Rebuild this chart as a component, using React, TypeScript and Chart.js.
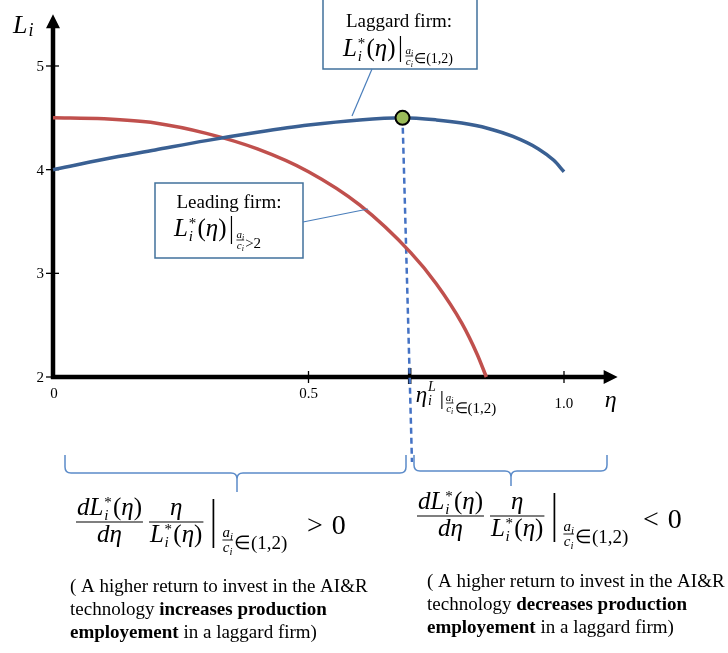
import React, { useEffect, useRef } from 'react';
import { Chart, registerables } from 'chart.js';
Chart.register(...registerables);

// ---- data ----
const etaLaggard = [0, 0.1, 0.2, 0.3, 0.4, 0.5, 0.6, 0.684, 0.75, 0.8, 0.85, 0.9, 0.95, 0.98, 1.0];
const laggardL = [4.0, 4.1, 4.19, 4.28, 4.36, 4.43, 4.48, 4.5, 4.48, 4.45, 4.4, 4.32, 4.2, 4.09, 3.98];
const etaLeading = [0, 0.1, 0.2, 0.3, 0.4, 0.5, 0.6, 0.7, 0.75, 0.8, 0.83, 0.848];
const leadingL = [4.5, 4.49, 4.45, 4.35, 4.2, 3.98, 3.66, 3.2, 2.9, 2.52, 2.22, 2.0];
const peakEta = [0.684];
const peakL = [4.5];
const dashEta = [0.684, 0.698, 0.7025];
const dashL = [4.5, 2.0, 1.18];
const etaLTick = 0.698;
const xTickValues = [0, 0.5, 1.0];
const xTickLabels = ['0', '0.5', '1.0'];
const yTickValues = [2, 3, 4, 5];
const yTickLabels = ['2', '3', '4', '5'];
const axisOrigin = { x: 0, y: 2 };
const axisEnd = { x: 1.105, y: 5.5 };

// scale range (page-wide drawing surface)
const X_MIN = -0.10372;
const X_MAX = 1.32094;
const Y_MIN = -0.66229;
const Y_MAX = 5.63654;

const SERIF = '"Liberation Serif", "Times New Roman", serif';
const BOX_BLUE = '#41719C';
const BRACE_BLUE = '#5B8BC9';

type P = { t: string; s: number; it?: boolean; b?: boolean; dy?: number; stack?: boolean; gap?: number };
const fontOf = (p: P) => `${p.it ? 'italic ' : ''}${p.b ? 'bold ' : ''}${p.s}px ${SERIF}`;

function runW(ctx: CanvasRenderingContext2D, ps: P[]) {
  let w = 0, pend = 0;
  for (const p of ps) {
    ctx.font = fontOf(p);
    const m = ctx.measureText(p.t).width;
    w += p.gap || 0;
    if (p.stack) { pend = m; continue; }
    w += Math.max(m, pend); pend = 0;
  }
  return w;
}
function drawRun(ctx: CanvasRenderingContext2D, x: number, y: number, ps: P[]) {
  let cx = x, pend = 0;
  for (const p of ps) {
    ctx.font = fontOf(p);
    const m = ctx.measureText(p.t).width;
    cx += p.gap || 0;
    ctx.fillText(p.t, cx, y + (p.dy || 0));
    if (p.stack) { pend = m; continue; }
    cx += Math.max(m, pend); pend = 0;
  }
  return cx;
}
const lstar = (S: number): P[] => [
  { t: 'L', s: S, it: true },
  { t: '*', s: S * 0.6, dy: -S * 0.34, stack: true, gap: S * 0.03 },
  { t: 'i', s: S * 0.6, it: true, dy: S * 0.2 },
  { t: '(', s: S, gap: S * 0.05 },
  { t: 'η', s: S, it: true },
  { t: ')', s: S },
];
const sub = (ch: string, s: number): P[] => [
  { t: ch, s, it: true },
  { t: 'i', s: s * 0.72, it: true, dy: s * 0.22 },
];
function drawFrac(ctx: CanvasRenderingContext2D, x: number, yLine: number, num: P[], den: P[], up: number, down: number, lw: number, pad: number) {
  const wn = runW(ctx, num), wd = runW(ctx, den);
  const w = Math.max(wn, wd) + pad * 2;
  drawRun(ctx, x + (w - wn) / 2, yLine - up, num);
  drawRun(ctx, x + (w - wd) / 2, yLine + down, den);
  ctx.beginPath();
  ctx.lineWidth = lw;
  ctx.moveTo(x, yLine);
  ctx.lineTo(x + w, yLine);
  ctx.stroke();
  return x + w;
}
function vbar(ctx: CanvasRenderingContext2D, x: number, y1: number, y2: number, lw: number) {
  ctx.beginPath();
  ctx.lineWidth = lw;
  ctx.moveTo(x, y1);
  ctx.lineTo(x, y2);
  ctx.stroke();
}
function brace(ctx: CanvasRenderingContext2D, x1: number, x2: number, yTop: number, yH: number, xMid: number, yTip: number) {
  const r = 6;
  ctx.beginPath();
  ctx.moveTo(x1, yTop);
  ctx.lineTo(x1, yH - r);
  ctx.quadraticCurveTo(x1, yH, x1 + r, yH);
  ctx.lineTo(xMid - r, yH);
  ctx.quadraticCurveTo(xMid, yH, xMid, yH + r);
  ctx.lineTo(xMid, yTip);
  ctx.moveTo(xMid, yH + r);
  ctx.quadraticCurveTo(xMid, yH, xMid + r, yH);
  ctx.lineTo(x2 - r, yH);
  ctx.quadraticCurveTo(x2, yH, x2, yH - r);
  ctx.lineTo(x2, yTop);
  ctx.stroke();
}
function elasticity(ctx: CanvasRenderingContext2D, x0: number, yLine: number, sign: string, signX: number) {
  const S = 25;
  let x = drawFrac(ctx, x0, yLine, [{ t: 'd', s: S, it: true }, ...lstar(S)], [{ t: 'd', s: S, it: true }, { t: 'η', s: S, it: true }], 7, 20, 1.2, 1);
  x = drawFrac(ctx, x + 6, yLine, [{ t: 'η', s: S, it: true }], lstar(S), 7, 20, 1.2, 1);
  vbar(ctx, x + 10, yLine - 23, yLine + 26, 1.7);
  x = drawFrac(ctx, x + 19, yLine + 18, sub('a', 15), sub('c', 15), 3, 12, 0.9, 0);
  drawRun(ctx, x + 1, yLine + 27, [{ t: '∈(1,2)', s: 19 }]);
  drawRun(ctx, signX, yLine + 12, [{ t: sign, s: 28 }, { t: '0', s: 28, gap: 9 }]);
}
function para(ctx: CanvasRenderingContext2D, x: number, y: number, bold: string, verb: string) {
  const S = 19;
  drawRun(ctx, x, y, [{ t: '( A higher return to invest in the AI&R', s: S }]);
  drawRun(ctx, x, y + 23, [{ t: 'technology ', s: S }, { t: verb + ' production', s: S, b: true }]);
  drawRun(ctx, x, y + 46, [{ t: bold, s: S, b: true }, { t: ' in a laggard firm)', s: S }]);
}

const overlay = {
  id: 'overlay',
  beforeDraw(chart: any) {
    const { ctx, width, height } = chart;
    ctx.save();
    ctx.fillStyle = '#fff';
    ctx.fillRect(0, 0, width, height);
    ctx.restore();
  },
  beforeDatasetsDraw(chart: any) {
    const ctx: CanvasRenderingContext2D = chart.ctx;
    const xs = chart.scales.x, ys = chart.scales.y;
    const x0 = xs.getPixelForValue(axisOrigin.x), y0 = ys.getPixelForValue(axisOrigin.y);
    const xe = xs.getPixelForValue(axisEnd.x), ye = ys.getPixelForValue(axisEnd.y);
    ctx.save();
    ctx.strokeStyle = '#000';
    ctx.fillStyle = '#000';
    // y ticks
    ctx.lineWidth = 1.3;
    ctx.font = `15px ${SERIF}`;
    ctx.textAlign = 'right';
    ctx.textBaseline = 'middle';
    yTickValues.forEach((v, i) => {
      const py = ys.getPixelForValue(v);
      ctx.beginPath(); ctx.moveTo(x0 - 7, py); ctx.lineTo(x0 + 6, py); ctx.stroke();
      ctx.fillText(yTickLabels[i], x0 - 9, py + 1);
    });
    // x ticks
    ctx.textAlign = 'center';
    ctx.textBaseline = 'alphabetic';
    xTickValues.forEach((v, i) => {
      const px = xs.getPixelForValue(v);
      if (v !== axisOrigin.x) { ctx.beginPath(); ctx.moveTo(px, y0 - 6); ctx.lineTo(px, y0 + 6); ctx.stroke(); }
      ctx.fillText(xTickLabels[i], px + (v === 0 ? 1 : 0), y0 + (v === 1 ? 31 : 21));
    });
    // axes
    ctx.lineWidth = 4.5;
    ctx.beginPath();
    ctx.moveTo(x0 - 2, y0); ctx.lineTo(xe - 10, y0);
    ctx.moveTo(x0, y0 + 2); ctx.lineTo(x0, ye + 10);
    ctx.stroke();
    ctx.beginPath();
    ctx.moveTo(xe, y0); ctx.lineTo(xe - 14, y0 - 7); ctx.lineTo(xe - 14, y0 + 7); ctx.closePath();
    ctx.moveTo(x0, ye); ctx.lineTo(x0 - 7, ye + 14); ctx.lineTo(x0 + 7, ye + 14); ctx.closePath();
    ctx.fill();
    // eta^L tick
    const pl = xs.getPixelForValue(etaLTick);
    ctx.lineWidth = 3.5;
    ctx.beginPath(); ctx.moveTo(pl, y0 - 9); ctx.lineTo(pl, y0 + 7); ctx.stroke();
    ctx.restore();
  },
  afterDatasetsDraw(chart: any) {
    const ctx: CanvasRenderingContext2D = chart.ctx;
    const xs = chart.scales.x, ys = chart.scales.y;
    const y0 = ys.getPixelForValue(axisOrigin.y);
    const xe = xs.getPixelForValue(axisEnd.x);
    ctx.save();
    ctx.fillStyle = '#000';
    ctx.strokeStyle = '#000';
    ctx.textBaseline = 'alphabetic';
    ctx.textAlign = 'left';
    // axis titles
    drawRun(ctx, 13, 33, [{ t: 'L', s: 26, it: true }, { t: 'i', s: 18, it: true, dy: 3, gap: 1 }]);
    drawRun(ctx, xe - 13, y0 + 30, [{ t: 'η', s: 24, it: true }]);
    // eta_i^L label
    const pl = xs.getPixelForValue(etaLTick);
    let x = drawRun(ctx, pl + 6, y0 + 25, [
      { t: 'η', s: 23, it: true },
      { t: 'L', s: 14, it: true, dy: -11, stack: true, gap: 1 },
      { t: 'i', s: 14, it: true, dy: 3 },
    ]);
    vbar(ctx, x + 6, y0 + 14, y0 + 32, 1.1);
    x = drawFrac(ctx, x + 10, y0 + 26, sub('a', 11), sub('c', 11), 2, 9, 0.8, 0);
    drawRun(ctx, x + 1, y0 + 36, [{ t: '∈(1,2)', s: 15 }]);

    // annotation boxes
    ctx.lineWidth = 1.5;
    ctx.strokeStyle = BOX_BLUE;
    ctx.fillStyle = '#fff';
    ctx.fillRect(323, -3, 154, 72); ctx.strokeRect(323, -3, 154, 72);
    ctx.fillRect(155, 183, 148, 75); ctx.strokeRect(155, 183, 148, 75);
    // connectors
    ctx.strokeStyle = '#4A7EBB';
    ctx.lineWidth = 1.2;
    ctx.beginPath(); ctx.moveTo(372, 69); ctx.lineTo(352, 116); ctx.stroke();
    ctx.beginPath(); ctx.moveTo(303, 222); ctx.lineTo(368, 209); ctx.stroke();

    ctx.fillStyle = '#000';
    ctx.strokeStyle = '#000';
    ctx.textAlign = 'center';
    ctx.font = `19px ${SERIF}`;
    ctx.fillText('Laggard firm:', 399, 27);
    ctx.fillText('Leading firm:', 229, 208);
    ctx.textAlign = 'left';
    // laggard formula
    x = drawRun(ctx, 343, 56, lstar(25));
    vbar(ctx, x + 5, 36, 62, 1.2);
    x = drawFrac(ctx, x + 10, 56, sub('a', 11), sub('c', 11), 2, 9, 0.8, 0);
    drawRun(ctx, x + 1, 63, [{ t: '∈(1,2)', s: 14 }]);
    // leading formula
    x = drawRun(ctx, 174, 236, lstar(25));
    vbar(ctx, x + 5, 216, 244, 1.2);
    x = drawFrac(ctx, x + 10, 240, sub('a', 11), sub('c', 11), 2, 9, 0.8, 0);
    drawRun(ctx, x + 1, 248, [{ t: '>2', s: 15 }]);

    // braces
    ctx.strokeStyle = BRACE_BLUE;
    ctx.lineWidth = 1.5;
    brace(ctx, 65, 406, 455, 473, 237, 492);
    brace(ctx, 414, 607, 455, 471, 511, 486);

    // elasticity formulas
    ctx.strokeStyle = '#000';
    elasticity(ctx, 76, 522, '>', 307);
    elasticity(ctx, 417, 516, '<', 643);

    // explanations
    para(ctx, 70, 592, 'employement', 'increases');
    para(ctx, 427, 587, 'employement', 'decreases');
    ctx.restore();
  },
};

export default function App() {
  const ref = useRef<HTMLCanvasElement>(null);
  useEffect(() => {
    if (!ref.current) return;
    const pts = (xs: number[], ys: number[]) => xs.map((v, i) => ({ x: v, y: ys[i] }));
    const chart = new Chart(ref.current, {
      type: 'line',
      data: {
        datasets: [
          {
            data: pts(peakEta, peakL), showLine: false, pointRadius: 7, pointBackgroundColor: '#9BBB59',
            pointBorderColor: '#000', pointBorderWidth: 2, order: 0,
          },
          {
            data: pts(etaLaggard, laggardL), borderColor: '#3A6093', borderWidth: 3.5, pointRadius: 0,
            cubicInterpolationMode: 'monotone', fill: false, order: 1,
          },
          {
            data: pts(etaLeading, leadingL), borderColor: '#C0504D', borderWidth: 3.5, pointRadius: 0,
            cubicInterpolationMode: 'monotone', fill: false, order: 2,
          },
          {
            data: pts(dashEta, dashL), borderColor: '#4472C4', borderWidth: 2.5, borderDash: [6, 4],
            pointRadius: 0, tension: 0, fill: false, order: 3,
          },
        ] as any,
      },
      options: {
        responsive: false,
        animation: false,
        devicePixelRatio: 1,
        events: [],
        layout: { padding: 0, autoPadding: false },
        plugins: { legend: { display: false }, tooltip: { enabled: false } },
        scales: {
          x: { type: 'linear', min: X_MIN, max: X_MAX, display: false },
          y: { type: 'linear', min: Y_MIN, max: Y_MAX, display: false },
        },
      } as any,
      plugins: [overlay],
    });
    return () => chart.destroy();
  }, []);
  return (
    <div style={{ position: 'absolute', left: 0, top: 0, width: 728, height: 653 }}>
      <canvas ref={ref} width={728} height={653} style={{ display: 'block' }} />
    </div>
  );
}
